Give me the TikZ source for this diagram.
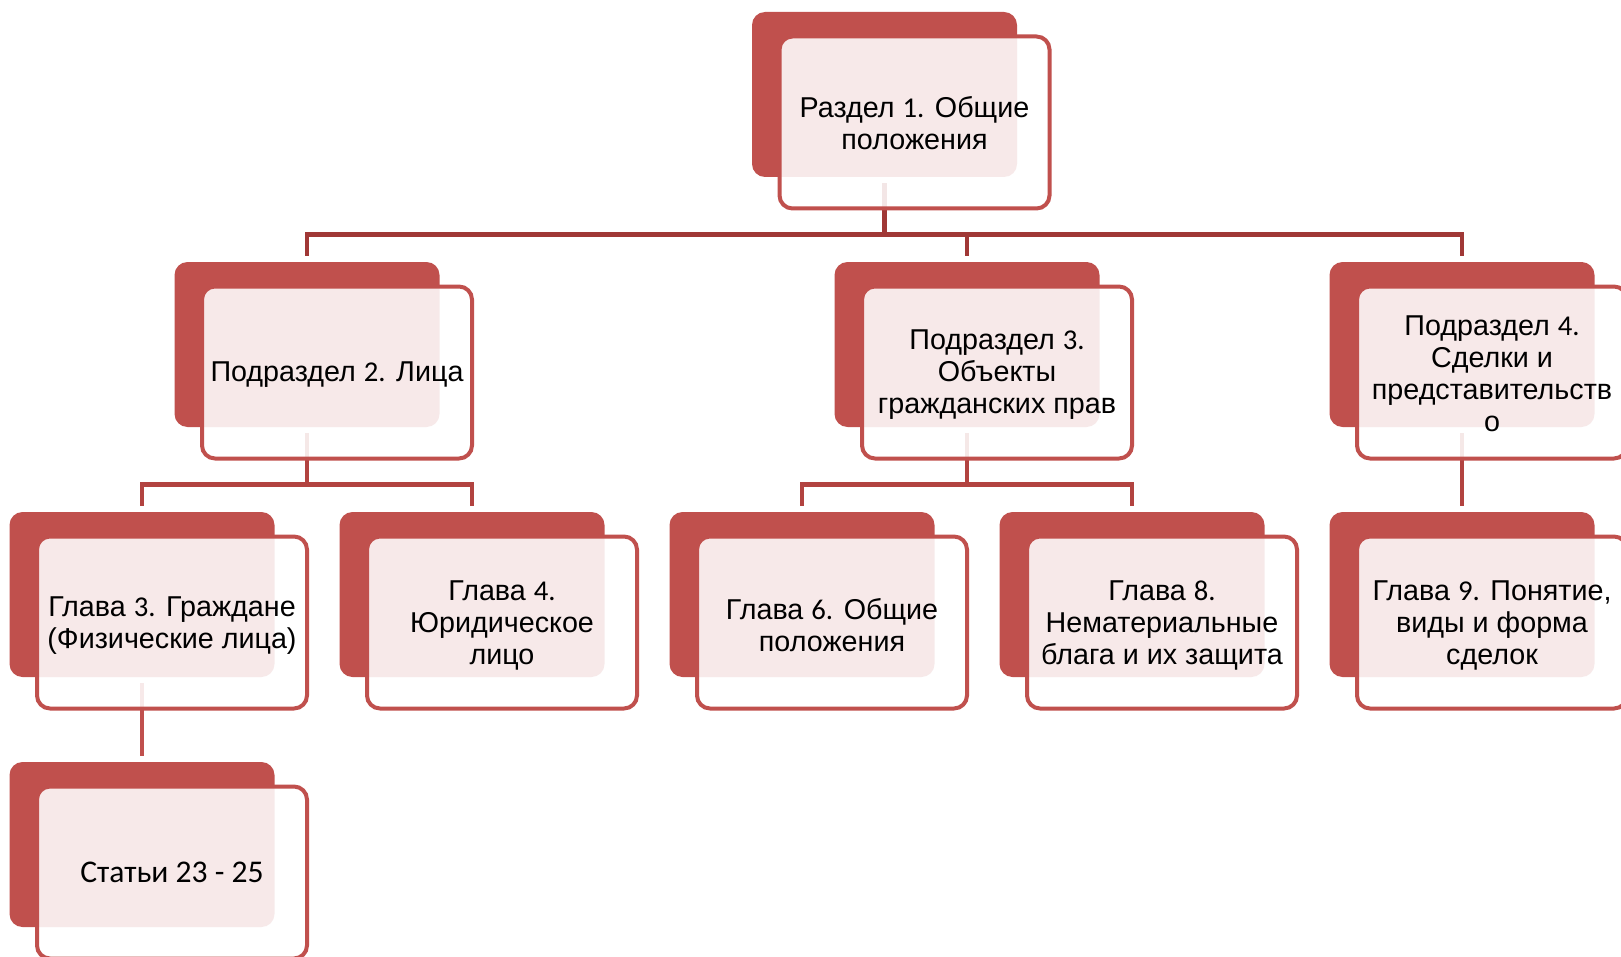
\documentclass[tikz,border=0pt]{standalone}
\usepackage{fontspec}
\setmainfont{Liberation Sans}
\newfontfamily\digitfont{Carlito}
\usepackage{tikz}
\definecolor{boxred}{RGB}{192, 80, 77}
\definecolor{linkdark}{RGB}{160, 56, 54}
\definecolor{linkmid}{RGB}{178, 67, 64}

\tikzset{
  backbox/.style={fill=boxred, rounded corners=6.5pt, minimum width=132.5pt, minimum height=82.5pt, inner sep=0pt},
  frontbox/.style={draw=boxred, line width=2pt, fill=white, fill opacity=0.88,
    rounded corners=6.5pt, minimum width=135pt, minimum height=86pt, inner sep=0pt},
  cardtext/.style={align=center, inner sep=0pt, font=\fontsize{14.35}{16}\selectfont},
  link/.style={line width=2.3pt, shorten <=3pt, shorten >=3pt}
}

\begin{document}
\begin{tikzpicture}[x=0.5pt, y=-0.5pt]
  \useasboundingbox (0,0) rectangle (1621,957);

  % Back plates
  \node[backbox] (r1back) at (884.5, 94.5) {};
  \node[backbox] (p2back) at (307, 344.5) {};
  \node[backbox] (p3back) at (967, 344.5) {};
  \node[backbox] (p4back) at (1462, 344.5) {};
  \node[backbox] (g3back) at (142, 594.5) {};
  \node[backbox] (g4back) at (472, 594.5) {};
  \node[backbox] (g6back) at (802, 594.5) {};
  \node[backbox] (g8back) at (1132, 594.5) {};
  \node[backbox] (g9back) at (1462, 594.5) {};
  \node[backbox] (stback) at (142, 844.5) {};

  % Links: section -> subsections
  \draw[link, linkdark] (r1back.south) -- ++(0,57) -| (p2back.north);
  \draw[link, linkdark] (r1back.south) -- ++(0,57) -| (p3back.north);
  \draw[link, linkdark] (r1back.south) -- ++(0,57) -| (p4back.north);

  % Links: subsections -> chapters
  \draw[link, linkmid] (p2back.south) -- ++(0,57) -| (g3back.north);
  \draw[link, linkmid] (p2back.south) -- ++(0,57) -| (g4back.north);
  \draw[link, linkmid] (p3back.south) -- ++(0,57) -| (g6back.north);
  \draw[link, linkmid] (p3back.south) -- ++(0,57) -| (g8back.north);
  \draw[link, linkmid] (p4back.south) -- (g9back.north);

  % Link: chapter -> articles
  \draw[link, boxred] (g3back.south) -- (stback.north);

  % Front cards
  \node[frontbox] (r1) at ([shift={(30,28)}]r1back.center) {};
  \node[frontbox] (p2) at ([shift={(30,28)}]p2back.center) {};
  \node[frontbox] (p3) at ([shift={(30,28)}]p3back.center) {};
  \node[frontbox] (p4) at ([shift={(30,28)}]p4back.center) {};
  \node[frontbox] (g3) at ([shift={(30,28)}]g3back.center) {};
  \node[frontbox] (g4) at ([shift={(30,28)}]g4back.center) {};
  \node[frontbox] (g6) at ([shift={(30,28)}]g6back.center) {};
  \node[frontbox] (g8) at ([shift={(30,28)}]g8back.center) {};
  \node[frontbox] (g9) at ([shift={(30,28)}]g9back.center) {};
  \node[frontbox] (st) at ([shift={(30,28)}]stback.center) {};

  % Card texts
  \node[cardtext] (r1text) at ([yshift=-0.5pt]r1.center) {Раздел {\digitfont 1.} Общие\\положения};
  \node[cardtext] (p2text) at ([yshift=-1pt]p2.center) {Подраздел {\digitfont 2.} Лица};
  \node[cardtext] (p3text) at ([yshift=-1pt]p3.center) {Подраздел {\digitfont 3.}\\Объекты\\гражданских прав};
  \node[cardtext] (p4text) at ([yshift=-0.5pt]p4.center) {Подраздел {\digitfont 4.}\\Сделки и\\представительств\\о};
  \node[cardtext] (g3text) at ([yshift=-1.5pt]g3.center) {Глава {\digitfont 3.} Граждане\\(Физические лица)};
  \node[cardtext] (g4text) at ([yshift=-1.5pt]g4.center) {Глава {\digitfont 4.}\\Юридическое\\лицо};
  \node[cardtext] (g6text) at ([yshift=-1.5pt]g6.center) {Глава {\digitfont 6.} Общие\\положения};
  \node[cardtext] (g8text) at ([yshift=-1.5pt]g8.center) {Глава {\digitfont 8.}\\Нематериальные\\блага и их защита};
  \node[cardtext] (g9text) at ([yshift=-1.5pt]g9.center) {Глава {\digitfont 9.} Понятие,\\виды и форма\\сделок};
  \node[cardtext, font=\digitfont\fontsize{15.8}{18}\selectfont] (sttext) at ([yshift=0pt]st.center) {Статьи 23 - 25};
\end{tikzpicture}
\end{document}
